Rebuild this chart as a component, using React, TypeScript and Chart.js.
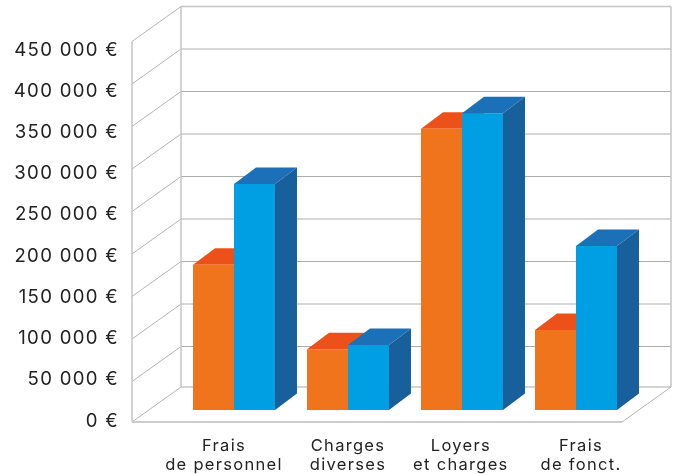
import React, { useEffect, useRef } from "react";
import { Chart, registerables } from "chart.js";

Chart.register(...registerables);

const categories = ["Frais de personnel", "Charges diverses", "Loyers et charges", "Frais de fonct."];
const categoryLines = [["Frais", "de personnel"], ["Charges", "diverses"], ["Loyers", "et charges"], ["Frais", "de fonct."]];
const labelCentres = [0.412, 1.5, 2.49, 3.544];
const orangeValues = [171000, 71500, 331000, 94000];
const blueValues = [266000, 76500, 349000, 193000];
const tickValues = [0, 50000, 100000, 150000, 200000, 250000, 300000, 350000, 400000, 450000];
const tickLabels = ["0 €", "50 000 €", "100 000 €", "150 000 €", "200 000 €", "250 000 €", "300 000 €", "350 000 €", "400 000 €", "450 000 €"];

const FONT = "Inter, 'Noto Sans', sans-serif";
const WALL = { left: 132, right: 622, depthX: 49, floorFront: 422, floorBack: 387, frontOffset: 14, backOffset: -21 };
const BAR = { depthX: 22, depthY: 16.5 };

function poly(ctx: CanvasRenderingContext2D, pts: number[][], fill: string) {
  ctx.fillStyle = fill;
  ctx.beginPath();
  pts.forEach((p, i) => (i ? ctx.lineTo(p[0], p[1]) : ctx.moveTo(p[0], p[1])));
  ctx.closePath();
  ctx.fill();
}

function line(ctx: CanvasRenderingContext2D, pts: number[][], color: string, width: number) {
  ctx.strokeStyle = color;
  ctx.lineWidth = width;
  ctx.beginPath();
  pts.forEach((p, i) => (i ? ctx.lineTo(p[0], p[1]) : ctx.moveTo(p[0], p[1])));
  ctx.stroke();
}

function extrude(chart: any, index: number, top: string, side: string) {
  const ctx = chart.ctx;
  chart.getDatasetMeta(index).data.forEach((bar: any) => {
    const { x, y, base, width } = bar.getProps(["x", "y", "base", "width"], true);
    const l = x - width / 2;
    const r = x + width / 2;
    const { depthX: dx, depthY: dy } = BAR;
    poly(ctx, [[l, y], [r, y], [r + dx, y - dy], [l + dx, y - dy]], top);
    poly(ctx, [[r, y], [r + dx, y - dy], [r + dx, base - dy], [r, base]], side);
  });
}

function zeroPadding(axis: any) {
  axis.paddingTop = 0;
  axis.paddingBottom = 0;
  axis.paddingLeft = 0;
  axis.paddingRight = 0;
}

const frame3d = {
  id: "frame3d",
  beforeDraw(chart: any) {
    chart.ctx.letterSpacing = "1.3px";
  },
  beforeDatasetsDraw(chart: any) {
    const ctx = chart.ctx;
    const y = chart.scales.y;
    const { left, right, depthX, floorFront, floorBack, frontOffset, backOffset } = WALL;
    const top = tickValues[tickValues.length - 1];
    const frontTop = y.getPixelForValue(top) + frontOffset;
    const backTop = y.getPixelForValue(top) + backOffset;
    ctx.save();
    tickValues.forEach((v) => {
      const isFloor = v === 0;
      const isTop = v === top;
      const fy = isFloor ? floorFront : y.getPixelForValue(v) + frontOffset;
      const by = isFloor ? floorBack : y.getPixelForValue(v) + backOffset;
      line(ctx, [[left, fy], [left + depthX, by]], "#b4b4b4", 1);
      line(ctx, [[left + depthX, by], [right + depthX, by]], isTop || isFloor ? "#c4c4c4" : "#adadad", isTop || isFloor ? 1.5 : 1.2);
    });
    line(ctx, [[left, frontTop], [left, floorFront]], "#c4c4c4", 1.5);
    line(ctx, [[left + depthX, backTop], [left + depthX, floorBack]], "#c4c4c4", 1.5);
    line(ctx, [[right + depthX, backTop], [right + depthX, floorBack]], "#c4c4c4", 1.5);
    line(ctx, [[left, floorFront], [right, floorFront]], "#cccccc", 2);
    line(ctx, [[right, floorFront], [right + depthX, floorBack]], "#b4b4b4", 1);
    extrude(chart, 0, "#EC511A", "#C9480F");
    ctx.restore();
  },
  afterDatasetsDraw(chart: any) {
    chart.ctx.save();
    extrude(chart, 1, "#1B70B8", "#17609B");
    chart.ctx.restore();
  },
};

export default function App() {
  const ref = useRef<HTMLCanvasElement>(null);
  useEffect(() => {
    document.body.style.margin = "0";
    const chart = new Chart(ref.current!, {
      type: "bar",
      data: {
        labels: categories,
        datasets: [
          { data: orangeValues, backgroundColor: "#EF741C", xAxisID: "x", yAxisID: "y", categoryPercentage: 0.719, barPercentage: 1 },
          { data: blueValues, backgroundColor: "#009EE3", xAxisID: "x", yAxisID: "y", categoryPercentage: 0.719, barPercentage: 1 },
        ],
      },
      options: {
        responsive: false,
        animation: false,
        layout: { padding: { top: 50, right: 44, left: 0, bottom: 0 } },
        plugins: { legend: { display: false }, tooltip: { enabled: false } },
        scales: {
          x: { display: false, type: "category" },
          y: { display: false, min: -12941, max: 423529 },
          xLabels: {
            type: "linear",
            position: "bottom",
            offset: false,
            min: 0,
            max: 4,
            grid: { display: false, drawTicks: false, offset: false },
            border: { display: false },
            afterBuildTicks: (axis: any) => {
              axis.ticks = labelCentres.map((value) => ({ value }));
            },
            afterFit: (axis: any) => {
              axis.height = 53;
              zeroPadding(axis);
            },
            ticks: {
              autoSkip: false,
              maxRotation: 0,
              padding: 15,
              color: "#222222",
              font: { family: FONT, size: 16.5, lineHeight: 1.17 },
              callback: (_v: any, i: number) => categoryLines[i],
            },
          },
          yLabels: {
            type: "linear",
            position: "left",
            min: 0,
            max: 450000,
            grid: { display: false, drawTicks: false },
            border: { display: false },
            afterBuildTicks: (axis: any) => {
              axis.ticks = tickValues.map((value) => ({ value }));
            },
            afterFit: (axis: any) => {
              axis.width = 177;
              zeroPadding(axis);
            },
            ticks: {
              autoSkip: false,
              padding: 58,
              color: "#222222",
              font: { family: FONT, size: 18.6 },
              callback: (_v: any, i: number) => tickLabels[i],
            },
          },
        },
      },
      plugins: [frame3d],
    } as any);
    return () => chart.destroy();
  }, []);
  return (
    <div style={{ width: 677, height: 474 }}>
      <canvas ref={ref} width={677} height={474} style={{ display: "block" }} />
    </div>
  );
}
